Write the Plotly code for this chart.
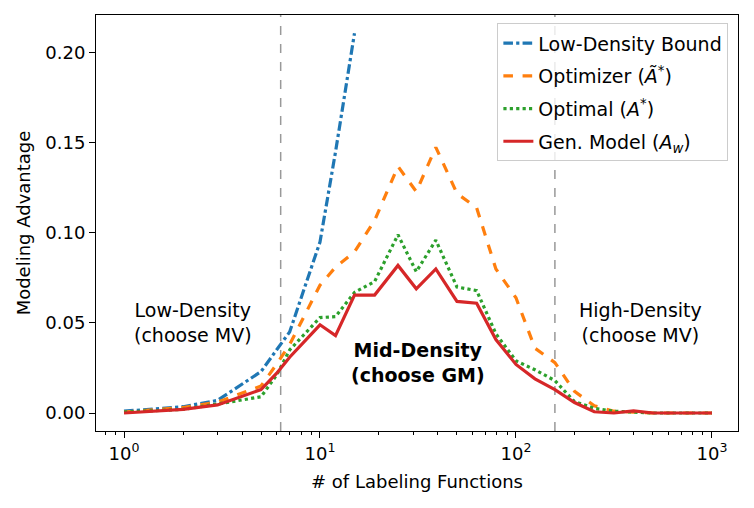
import plotly.graph_objects as go

# ---- data ----
n_lfs = [1, 2, 3, 5, 6, 7, 10, 12, 15, 19, 25, 31, 39, 50, 63, 79, 100, 125, 158, 199, 251, 316, 398, 501, 630, 794, 1000]
bound_x = [1, 2, 3, 5, 6, 7, 10, 12, 15]
bound_y = [0.001, 0.0035, 0.007, 0.023, 0.035, 0.045, 0.095, 0.145, 0.211]
optimizer_y = [0.0005, 0.003, 0.006, 0.015, 0.027, 0.038, 0.071, 0.081, 0.0895, 0.107, 0.137, 0.123, 0.1476, 0.122, 0.114, 0.080, 0.064, 0.036, 0.028, 0.012, 0.004, 0.001, 0.0005, 0.0, 0.0, 0.0, 0.0]
optimal_y = [0.0005, 0.002, 0.005, 0.009, 0.021, 0.035, 0.053, 0.0535, 0.067, 0.073, 0.099, 0.0785, 0.096, 0.070, 0.068, 0.044, 0.029, 0.024, 0.018, 0.0063, 0.0026, 0.001, 0.0005, 0.0, 0.0, 0.0, 0.0]
genmodel_y = [0.0, 0.002, 0.0045, 0.013, 0.022, 0.031, 0.049, 0.043, 0.0655, 0.0655, 0.082, 0.069, 0.080, 0.062, 0.061, 0.0408, 0.027, 0.019, 0.013, 0.0058, 0.0007, 0.0, 0.0012, 0.0, 0.0, 0.0, 0.0]
low_thresh = 6.3
high_thresh = 158
y_ticks = [0.00, 0.05, 0.10, 0.15, 0.20]
x_ticks = [1, 10, 100, 1000]
x_ticklabels = ["10<sup>0</sup>", "10<sup>1</sup>", "10<sup>2</sup>", "10<sup>3</sup>"]
minor_x = [0.8, 0.9] + [m * d for d in (1, 10, 100) for m in range(2, 10)]

FONT = "DejaVu Sans"
fig = go.Figure()

fig.add_trace(go.Scatter(x=bound_x, y=bound_y, mode="lines", name="Low-Density Bound",
                         legendgroup="a",
                         line=dict(color="#1f77b4", width=3.2, dash="dashdot")))
fig.add_trace(go.Scatter(x=n_lfs, y=optimizer_y, mode="lines",
                         name="Optimizer (<i>Ã</i><sup>*</sup>)", legendgroup="b",
                         line=dict(color="#ff7f0e", width=3.2, dash="dash")))
fig.add_trace(go.Scatter(x=n_lfs, y=optimal_y, mode="lines",
                         name="Optimal (<i>A</i><sup>*</sup>)", legendgroup="c",
                         line=dict(color="#2ca02c", width=3.2, dash="dot")))
fig.add_trace(go.Scatter(x=n_lfs, y=genmodel_y, mode="lines",
                         name="Gen. Model (<i>A<sub>w</sub></i>)", legendgroup="d",
                         line=dict(color="#d62728", width=3.2)))

for xv in (low_thresh, high_thresh):
    fig.add_shape(type="line", xref="x", yref="paper", x0=xv, x1=xv, y0=0, y1=1,
                  line=dict(color="#999999", width=1.5, dash="dash"), layer="below")

fig.add_annotation(x=0.352, y=0.05, xref="x", yref="y", text="Low-Density<br>(choose MV)",
                   showarrow=False, font=dict(family=FONT, size=19, color="black"))
fig.add_annotation(x=1.5, y=0.028, xref="x", yref="y", text="<b>Mid-Density<br>(choose GM)</b>",
                   showarrow=False, font=dict(family=FONT, size=19, color="black"))
fig.add_annotation(x=2.638, y=0.05, xref="x", yref="y", text="High-Density<br>(choose MV)",
                   showarrow=False, font=dict(family=FONT, size=19, color="black"))

fig.update_layout(
    width=746, height=500,
    margin=dict(l=88, r=16, t=7, b=77),
    paper_bgcolor="white", plot_bgcolor="white",
    font=dict(family=FONT, size=18, color="black"),
    showlegend=True,
    legend=dict(x=0.985, y=0.98, xanchor="right", yanchor="top",
                bgcolor="rgba(255,255,255,0.8)", bordercolor="#cccccc", borderwidth=1,
                font=dict(family=FONT, size=19), tracegroupgap=5, traceorder="grouped"),
)
fig.update_xaxes(type="log", range=[-0.143, 3.133],
                 tickvals=x_ticks, ticktext=x_ticklabels,
                 ticks="outside", ticklen=6, tickwidth=1, tickcolor="black",
                 minor=dict(ticks="outside", ticklen=3, tickvals=minor_x, tickcolor="black"),
                 showgrid=False, zeroline=False,
                 showline=True, linecolor="black", linewidth=1, mirror=True,
                 title=dict(text="# of Labeling Functions", font=dict(size=18), standoff=12),
                 tickfont=dict(size=18))
fig.update_yaxes(range=[-0.01, 0.2211], tickvals=y_ticks, tickformat=".2f",
                 ticks="outside", ticklen=6, tickwidth=1, tickcolor="black",
                 showgrid=False, zeroline=False,
                 showline=True, linecolor="black", linewidth=1, mirror=True,
                 title=dict(text="Modeling Advantage", font=dict(size=18), standoff=10),
                 tickfont=dict(size=18))

fig.write_html("out.html")
